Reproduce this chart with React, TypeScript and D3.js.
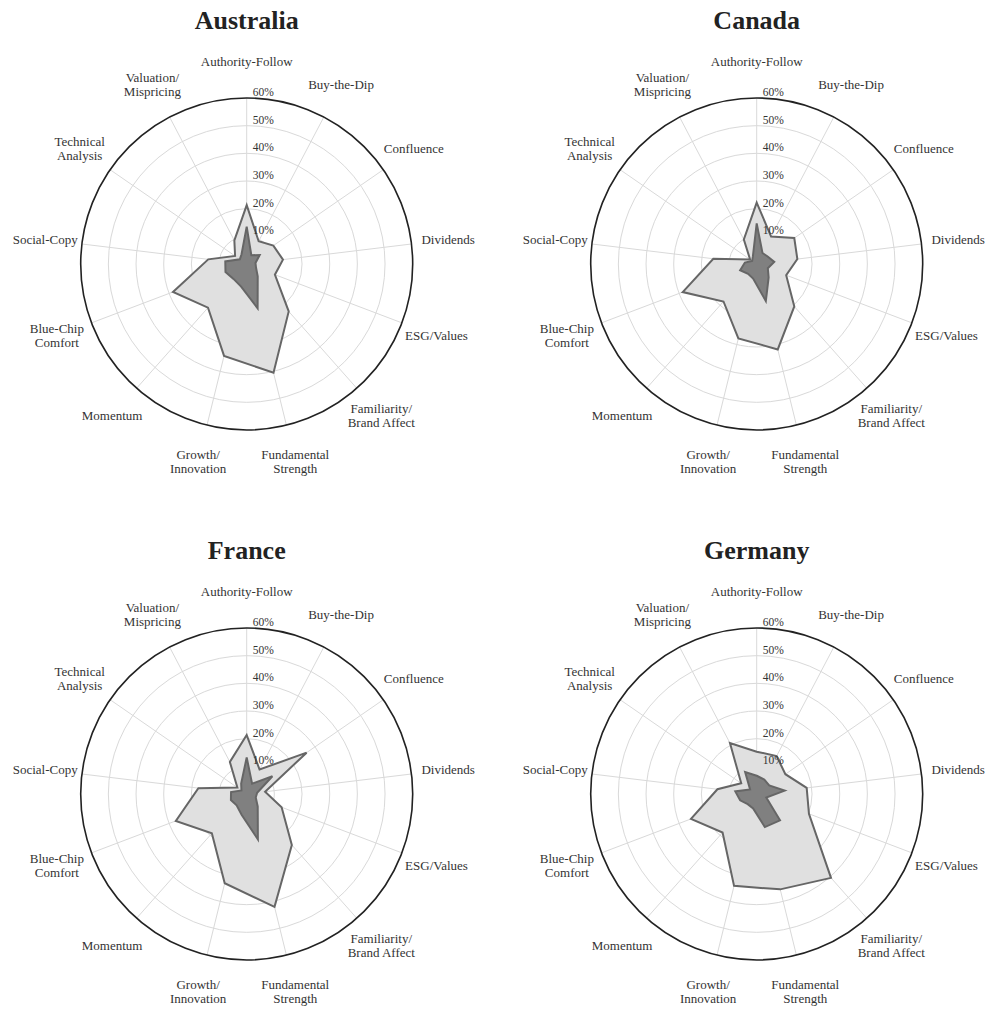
import React from 'react';
import * as d3 from 'd3';

const categoryLabels: string[][] = [
  ['Authority-Follow'],
  ['Buy-the-Dip'],
  ['Confluence'],
  ['Dividends'],
  ['ESG/Values'],
  ['Familiarity/', 'Brand Affect'],
  ['Fundamental', 'Strength'],
  ['Growth/', 'Innovation'],
  ['Momentum'],
  ['Blue-Chip', 'Comfort'],
  ['Social-Copy'],
  ['Technical', 'Analysis'],
  ['Valuation/', 'Mispricing'],
];

const countries = ['Australia', 'Canada', 'France', 'Germany'];

const tickValues = [10, 20, 30, 40, 50, 60];
const tickLabels = ['10%', '20%', '30%', '40%', '50%', '60%'];

// Outer (light) series, % per category
const australiaOuter = [21.3, 9.3, 11.7, 13.2, 10.9, 22.9, 40.5, 34.2, 21.1, 28.5, 14.0, 5.1, 9.6];
const canadaOuter = [22.2, 11.2, 16.5, 14.8, 11.4, 20.5, 31.8, 27.7, 18.1, 28.6, 15.8, 2.9, 10.0];
const franceOuter = [21.3, 10.0, 26.3, 6.7, 13.5, 24.6, 42.0, 33.2, 19.0, 27.4, 17.6, 4.1, 13.1];
const germanyOuter = [15.3, 15.5, 12.6, 18.2, 20.2, 40.5, 35.5, 34.2, 18.6, 25.4, 14.3, 6.8, 20.8];

// Inner (dark) series, % per category
const australiaInner = [13.5, 3.6, 5.7, 3.2, 3.6, 6.0, 16.5, 8.4, 7.2, 8.2, 7.8, 3.0, 4.0];
const canadaInner = [14.7, 4.5, 4.8, 6.4, 4.3, 6.5, 13.8, 5.4, 4.7, 6.4, 4.3, 2.0, 3.0];
const franceInner = [13.2, 4.2, 11.3, 3.8, 3.5, 6.0, 16.9, 7.7, 5.5, 6.1, 5.7, 2.3, 4.3];
const germanyInner = [6.6, 5.9, 5.5, 10.2, 3.7, 12.7, 12.3, 5.4, 4.9, 6.4, 7.8, 2.9, 9.0];

const outerSeries = [australiaOuter, canadaOuter, franceOuter, germanyOuter];
const innerSeries = [australiaInner, canadaInner, franceInner, germanyInner];

const W = 989;
const H = 1009;
const R = 166;
const FONT = '"Liberation Serif", "Times New Roman", Times, serif';

function Radar({ title, outer, inner, cx, cy }: { title: string; outer: number[]; inner: number[]; cx: number; cy: number }) {
  const n = categoryLabels.length;
  const r = d3.scaleLinear().domain([0, 60]).range([0, R]);
  const angle = d3.scaleLinear().domain([0, n]).range([0, 2 * Math.PI]);
  const line = d3
    .lineRadial<number>()
    .angle((_, i) => angle(i))
    .radius((d) => r(d))
    .curve(d3.curveLinearClosed);
  const labelR = 203;
  return (
    <g transform={`translate(${cx},${cy})`}>
      <text x={0} y={-235} textAnchor="middle" fontFamily={FONT} fontWeight="bold" fontSize={26} fill="#222">
        {title}
      </text>
      {tickValues.slice(0, -1).map((t) => (
        <circle key={t} r={r(t)} fill="none" stroke="#d9d9d9" strokeWidth={1} />
      ))}
      {categoryLabels.map((_, i) => {
        const a = angle(i);
        return (
          <line key={i} x1={0} y1={0} x2={R * Math.sin(a)} y2={-R * Math.cos(a)} stroke="#d9d9d9" strokeWidth={1} />
        );
      })}
      <circle r={r(60)} fill="none" stroke="#222" strokeWidth={1.6} />
      <path d={line(outer) || ''} fill="#e0e0e0" stroke="#666" strokeWidth={2} strokeLinejoin="miter" />
      <path d={line(inner) || ''} fill="#808080" stroke="#666" strokeWidth={2} strokeLinejoin="miter" />
      {tickValues.map((t, i) => (
        <text key={t} x={6} y={-r(t) - 6} dominantBaseline="central" fontFamily={FONT} fontSize={11.5} fill="#333">
          {tickLabels[i]}
        </text>
      ))}
      {categoryLabels.map((lines, i) => {
        const a = angle(i);
        const x = labelR * Math.sin(a);
        const y = -labelR * Math.cos(a);
        const off = ((lines.length - 1) * 14) / 2;
        return (
          <text key={i} textAnchor="middle" fontFamily={FONT} fontSize={13} fill="#333">
            {lines.map((l, j) => (
              <tspan key={j} x={x} y={y - off + j * 14} dominantBaseline="central">
                {l}
              </tspan>
            ))}
          </text>
        );
      })}
    </g>
  );
}

export default function App() {
  return (
    <svg width={W} height={H} style={{ position: 'absolute', left: 0, top: 0, background: '#fff' }}>
      <rect width={W} height={H} fill="#fff" />
      {countries.map((c, k) => {
        const col = k % 2;
        const row = Math.floor(k / 2);
        const cx = 246.7 + col * 510;
        const cy = 264 + row * 530;
        return <Radar key={c} title={c} outer={outerSeries[k]} inner={innerSeries[k]} cx={cx} cy={cy} />;
      })}
    </svg>
  );
}
